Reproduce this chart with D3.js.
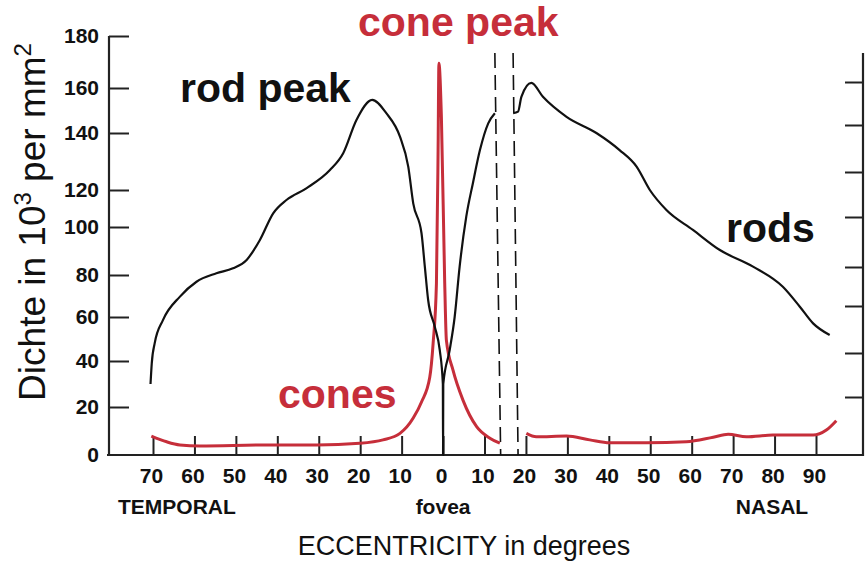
<!DOCTYPE html>
<head>
    <meta charset="utf-8">
    <style>
        body{ margin:0; background:#fff; }
        svg{ display:block; }
        .axis .domain{ display:none; }
        .axis line{ stroke:#222; stroke-width:2px; }
        .ticklab text{ font-family:'Liberation Sans', Arial, sans-serif; font-weight:bold; font-size:21px; fill:#111; }
        .rods{ fill:none; stroke:#111; stroke-width:2.2px; }
        .cones{ fill:none; stroke:#c62e3a; stroke-width:3px; }
        .blind{ stroke:#111; stroke-width:1.6px; stroke-dasharray:15,7; }
        .big{ font-family:'Liberation Sans', Arial, sans-serif; font-weight:bold; font-size:41px; }
    </style>
</head>
<body>
    <div id="chart"></div>
    <script src="https://d3js.org/d3.v7.min.js"></script>
    <script>
        // eccentricity in degrees: temporal side negative, nasal side positive
        var xTicks = [-70,-60,-50,-40,-30,-20,-10,0,10,20,30,40,50,60,70,80,90];
        var yTicks = [0,20,40,60,80,100,120,140,160,180];
        var yTicksRight = [20,40,60,80,100,120,140,160];

        var rodEcc = [-70.6,-70.3,-69.6,-67.6,-63.5,-59.5,-54.7,-50.7,-47.4,-44.2,-41,-37.8,-33,-27.3,-24.1,-20.9,-17.1,-13.7,-10.4,-8.4,-7.2,-5.2,-4.4,-3.6,-2,-0.8,-0.05,0,0.05,1.6,2.8,4,5.6,7.2,8.9,10.9,12.5,14.7,16.9,18.1,18.9,21.3,24.1,29.8,37,42.6,46.7,49.9,53.9,60.3,66.8,74.8,82,86.1,89.3,93.3];
        var rodDensity = [30,39,48,58.6,69.7,76.8,80.7,82.8,86.3,94.6,107.4,114.6,120.6,127,132.9,145.8,154.7,148.8,138.7,128.2,112.8,97.4,83.5,68.1,55.6,45,30,0,30,45,60,83.5,105.6,122.4,134,144.3,148.8,null,148.8,149.5,156.1,162,156.1,147.2,140,134,128.2,120,109.2,98.8,90.4,83.5,74.4,64.9,57.1,51.8];

        var coneEcc = [-70.4,-66.7,-63.5,-58.7,-42.6,-30.5,-20.1,-14.5,-10.4,-7.2,-5.2,-3.2,-2.4,-1.6,-1.2,-1,-0.4,0.4,0.8,2.4,4.8,8.1,11.3,13.7,17,20.1,22.5,29.8,35.4,40.2,49.1,58.7,65.2,68.8,73.2,79.6,89.3,92.5,94.9];
        var coneDensity = [7.9,5.5,4.2,3.8,4.2,4.2,4.9,6.3,9,15.4,22.2,33,48,76,134,169.5,147,76,49.5,36,23,11.8,7,4.9,null,9,7.6,7.9,6.3,5.1,5.1,5.5,7.4,8.6,7.6,8.3,8.3,10.4,14.3];

        // blind spot edges (top / bottom of the dashed lines)
        var blindTop = [12.5,16.9];
        var blindBottom = [13.9,18.1];

        var width = 866, height = 562;

        var svg = d3.select("#chart").append("svg")
            .attr("width", width)
            .attr("height", height);

        var x = d3.scaleLinear().domain([-70,90]).range([153,816]);
        // the printed axis is hand drawn, tick spacing is uneven
        var y = d3.scaleLinear().domain(yTicks)
            .range([455,407,361,317,275,227,190,133,88,36]);
        var yRight = d3.scaleLinear().domain([0].concat(yTicksRight))
            .range([455,397,353,306,267,217,172,125,82]);

        var rods = rodEcc.map(function(d,i){ return {x:d, y:rodDensity[i]}; });
        var cones = coneEcc.map(function(d,i){ return {x:d, y:coneDensity[i]}; });

        var line = d3.line()
            .defined(function(d){ return d.y !== null; })
            .x(function(d){ return x(d.x); })
            .y(function(d){ return y(d.y); })
            .curve(d3.curveMonotoneX);

        // frame
        svg.append("line").attr("x1",107).attr("x2",864).attr("y1",455).attr("y2",455)
            .attr("stroke","#222").attr("stroke-width",2.2);
        svg.append("line").attr("x1",109).attr("x2",109).attr("y1",y(180)).attr("y2",456)
            .attr("stroke","#222").attr("stroke-width",2.2);
        svg.append("line").attr("x1",863).attr("x2",863).attr("y1",53).attr("y2",456)
            .attr("stroke","#222").attr("stroke-width",2.2);

        // left ticks + labels
        svg.append("g").attr("class","axis")
            .attr("transform","translate(109,0)")
            .call(d3.axisRight(y).tickValues(yTicks.slice(1)).tickSize(20).tickFormat(""));
        svg.append("g").attr("class","axis ticklab")
            .attr("transform","translate(109,0)")
            .call(d3.axisLeft(y).tickValues(yTicks).tickSize(0).tickPadding(10));

        // right ticks
        svg.append("g").attr("class","axis")
            .attr("transform","translate(863,0)")
            .call(d3.axisLeft(yRight).tickValues(yTicksRight).tickSize(18).tickFormat(""));

        // bottom ticks + labels
        svg.append("g").attr("class","axis")
            .attr("transform","translate(0,455)")
            .call(d3.axisTop(x).tickValues(xTicks).tickSize(19).tickFormat(""));
        svg.append("g").attr("class","axis ticklab")
            .attr("transform","translate(-2,455)")
            .call(d3.axisBottom(x).tickValues(xTicks).tickSize(0).tickPadding(13)
                .tickFormat(function(d){ return Math.abs(d); }));

        // blind spot
        svg.selectAll(".blind").data(blindTop).enter().append("line")
            .attr("class","blind")
            .attr("x1", function(d){ return x(d); })
            .attr("y1", 53)
            .attr("x2", function(d,i){ return x(blindBottom[i]); })
            .attr("y2", 455);

        svg.append("path").datum(cones).attr("class","cones").attr("d", line);
        svg.append("path").datum(rods).attr("class","rods").attr("d", line);

        // labels
        svg.append("text").attr("class","big").attr("x",358).attr("y",36).attr("fill","#c62e3a").text("cone peak");
        svg.append("text").attr("class","big").attr("x",180).attr("y",102).attr("fill","#111").text("rod peak");
        svg.append("text").attr("class","big").attr("x",726).attr("y",242).attr("fill","#111").text("rods");
        svg.append("text").attr("class","big").attr("x",278).attr("y",408).attr("fill","#c62e3a").text("cones");

        var side = svg.append("g").attr("font-family","'Liberation Sans', Arial, sans-serif")
            .attr("font-weight","bold").attr("font-size",21).attr("fill","#111");
        side.append("text").attr("x",118).attr("y",514).text("TEMPORAL");
        side.append("text").attr("x",x(0)).attr("y",514).attr("text-anchor","middle").text("fovea");
        side.append("text").attr("x",772).attr("y",514).attr("text-anchor","middle").text("NASAL");

        svg.append("text").attr("x",464).attr("y",555).attr("text-anchor","middle")
            .attr("font-family","'Liberation Sans', Arial, sans-serif").attr("font-size",27).attr("fill","#111")
            .text("ECCENTRICITY in degrees");

        var yt = svg.append("text").attr("transform","translate(45,222) rotate(-90)")
            .attr("text-anchor","middle")
            .attr("font-family","'Liberation Sans', Arial, sans-serif").attr("font-size",37).attr("fill","#111");
        yt.append("tspan").text("Dichte in 10");
        yt.append("tspan").attr("font-size",24).attr("dy",-14).text("3");
        yt.append("tspan").attr("dy",14).text(" per mm");
        yt.append("tspan").attr("font-size",24).attr("dy",-14).text("2");
    </script>
</body>
